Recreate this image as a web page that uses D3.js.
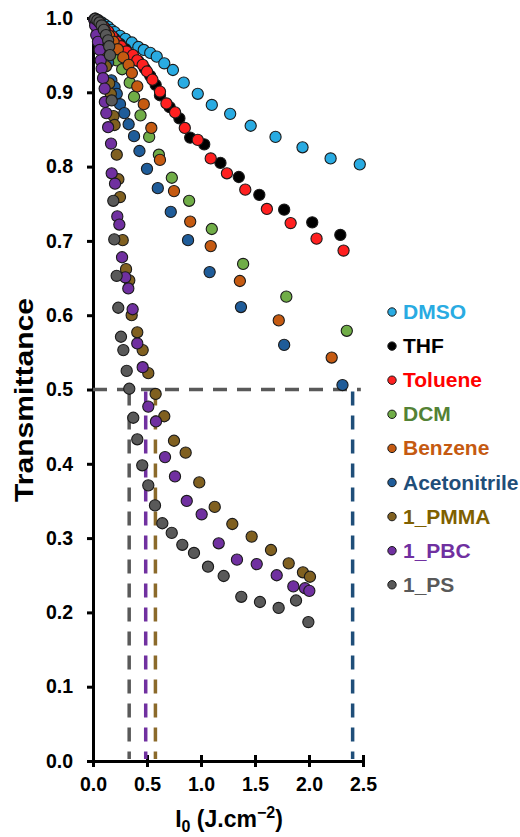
<!DOCTYPE html>
<html><head><meta charset="utf-8">
<script src="https://cdn.jsdelivr.net/npm/d3@7"></script>
<style>
html,body{margin:0;padding:0;background:#fff;}
text{font-family:"Liberation Sans",Arial,sans-serif;font-weight:bold;}
</style></head>
<body><svg id="c" width="520" height="837"></svg>
<script>
const seriesNames = ["DMSO","THF","Toluene","DCM","Benzene","Acetonitrile","1_PMMA","1_PBC","1_PS"];
const markerColors = ["#29ABE2","#000000","#FF2020","#70AD47","#C55A11","#1F5C99","#806020","#7030A0","#595959"];
const labelColors  = ["#29ABE2","#000000","#FF0000","#548235","#C55A11","#1F4E79","#7F6000","#7030A0","#595959"];

const DMSO = [[0.02,0.999],[0.05,0.997],[0.08,0.994],[0.11,0.991],[0.14,0.988],[0.17,0.984],[0.2,0.981],[0.25,0.976],[0.3,0.972],[0.36,0.967],[0.42,0.961],[0.47,0.957],[0.53,0.953],[0.59,0.948],[0.66,0.939],[0.74,0.930],[0.84,0.913],[0.97,0.898],[1.1,0.883],[1.27,0.871],[1.46,0.855],[1.69,0.840],[1.94,0.826],[2.2,0.811],[2.47,0.803]];
const THF = [[0.03,0.997],[0.07,0.992],[0.11,0.986],[0.15,0.979],[0.2,0.972],[0.25,0.965],[0.3,0.958],[0.36,0.950],[0.42,0.942],[0.48,0.932],[0.53,0.922],[0.58,0.910],[0.62,0.896],[0.71,0.880],[0.8,0.865],[0.9,0.839],[1.03,0.830],[1.18,0.805],[1.35,0.786],[1.54,0.762],[1.77,0.742],[2.03,0.725],[2.29,0.708]];
const Toluene = [[0.03,0.998],[0.06,0.994],[0.1,0.988],[0.14,0.982],[0.18,0.975],[0.22,0.968],[0.26,0.962],[0.31,0.955],[0.37,0.950],[0.41,0.943],[0.46,0.937],[0.5,0.928],[0.55,0.917],[0.62,0.901],[0.68,0.885],[0.76,0.873],[0.85,0.852],[0.97,0.836],[1.09,0.811],[1.24,0.791],[1.41,0.769],[1.61,0.743],[1.83,0.724],[2.07,0.703],[2.32,0.687]];
const DCM = [[0.03,0.996],[0.07,0.988],[0.11,0.978],[0.15,0.966],[0.19,0.953],[0.22,0.943],[0.27,0.931],[0.34,0.913],[0.38,0.894],[0.44,0.869],[0.52,0.840],[0.61,0.816],[0.73,0.785],[0.89,0.754],[1.1,0.716],[1.39,0.669],[1.79,0.625],[2.35,0.579]];
const Benzene = [[0.03,0.996],[0.07,0.99],[0.11,0.983],[0.15,0.976],[0.19,0.968],[0.23,0.958],[0.28,0.947],[0.33,0.937],[0.36,0.926],[0.41,0.908],[0.47,0.884],[0.54,0.852],[0.62,0.809],[0.75,0.767],[0.9,0.726],[1.09,0.693],[1.36,0.646],[1.72,0.593],[2.21,0.543]];
const Acetonitrile = [[0.02,0.995],[0.05,0.985],[0.08,0.972],[0.11,0.958],[0.14,0.94],[0.17,0.916],[0.2,0.907],[0.22,0.898],[0.25,0.884],[0.29,0.872],[0.33,0.857],[0.38,0.841],[0.43,0.821],[0.5,0.797],[0.6,0.771],[0.72,0.739],[0.88,0.701],[1.08,0.658],[1.37,0.611],[1.77,0.560],[2.31,0.506]];
const PMMA = [[0.02,0.995],[0.04,0.985],[0.07,0.97],[0.09,0.955],[0.12,0.935],[0.15,0.912],[0.165,0.898],[0.19,0.868],[0.2,0.856],[0.22,0.816],[0.235,0.783],[0.25,0.759],[0.275,0.701],[0.306,0.662],[0.336,0.647],[0.358,0.600],[0.41,0.577],[0.46,0.553],[0.512,0.522],[0.58,0.494],[0.66,0.464],[0.75,0.431],[0.858,0.415],[0.984,0.375],[1.127,0.342],[1.29,0.319],[1.469,0.302],[1.648,0.284],[1.812,0.266],[1.944,0.254],[2.009,0.248]];
const PBC = [[0.01,0.998],[0.02,0.99],[0.03,0.977],[0.046,0.968],[0.062,0.957],[0.071,0.943],[0.08,0.932],[0.093,0.919],[0.108,0.905],[0.11,0.887],[0.123,0.872],[0.14,0.853],[0.167,0.831],[0.173,0.791],[0.204,0.777],[0.225,0.733],[0.244,0.722],[0.269,0.678],[0.299,0.651],[0.327,0.636],[0.367,0.608],[0.41,0.562],[0.46,0.530],[0.512,0.477],[0.583,0.457],[0.667,0.409],[0.759,0.383],[0.868,0.350],[1.006,0.332],[1.164,0.293],[1.333,0.271],[1.516,0.265],[1.701,0.250],[1.855,0.235],[1.963,0.2325],[2.003,0.229]];
const PS = [[0.02,0.999],[0.04,0.997],[0.06,0.994],[0.08,0.99],[0.1,0.984],[0.12,0.977],[0.14,0.97],[0.15,0.962],[0.157,0.950],[0.173,0.889],[0.188,0.754],[0.197,0.702],[0.219,0.653],[0.234,0.610],[0.259,0.571],[0.281,0.553],[0.312,0.525],[0.336,0.501],[0.373,0.462],[0.41,0.433],[0.456,0.398],[0.512,0.371],[0.574,0.344],[0.642,0.320],[0.729,0.307],[0.827,0.291],[0.935,0.280],[1.065,0.2615],[1.21,0.249],[1.373,0.221],[1.546,0.214],[1.719,0.206],[1.88,0.216],[1.994,0.187]];
const seriesData = [DMSO,THF,Toluene,DCM,Benzene,Acetonitrile,PMMA,PBC,PS];

// threshold (T = 0.5) guide lines
const halfLevel = 0.5;
const halfLineEnd = 2.48;
const thresholdX = [0.335, 0.488, 0.578, 2.404];
const thresholdColors = ["#595959","#7030A0","#8B6A2A","#1F4E79"];

const xTicks = [0,0.5,1,1.5,2,2.5];
const yTicks = [0,0.1,0.2,0.3,0.4,0.5,0.6,0.7,0.8,0.9,1.0];

const svg = d3.select("#c");
const x = d3.scaleLinear().domain([0,2.5]).range([93,363]);
const y = d3.scaleLinear().domain([0,1]).range([761,18]);

// axes
const fmt = d3.format(".1f");
const gy = svg.append("g").attr("transform",`translate(${x(0)},0)`)
  .call(d3.axisLeft(y).tickValues(yTicks).tickFormat(fmt).tickSize(6).tickSizeOuter(0).tickPadding(14));
const gx = svg.append("g").attr("transform",`translate(0,${y(0)})`)
  .call(d3.axisBottom(x).tickValues(xTicks).tickFormat(fmt).tickSize(6).tickSizeOuter(0).tickPadding(10));
[gx,gy].forEach(g=>{
  g.select(".domain").attr("stroke","#000").attr("stroke-width",3);
  g.selectAll(".tick line").attr("stroke","#000").attr("stroke-width",3);
  g.selectAll(".tick text").attr("fill","#000").style("font-size","19.5px").style("font-family","'Liberation Sans',Arial,sans-serif").style("font-weight","bold");
});
gx.selectAll(".tick line").attr("y1",-6).attr("y2",6);

// dashed guide lines
svg.append("line").attr("x1",x(0)).attr("x2",x(halfLineEnd)).attr("y1",y(halfLevel)).attr("y2",y(halfLevel))
  .attr("stroke","#595959").attr("stroke-width",3.5).attr("stroke-dasharray","14,10");
thresholdX.forEach((v,i)=>{
  svg.append("line").attr("x1",x(v)).attr("x2",x(v)).attr("y1",y(halfLevel)+2).attr("y2",y(0)-2)
    .attr("stroke",thresholdColors[i]).attr("stroke-width",3.5).attr("stroke-dasharray","14,10");
});

// points
seriesData.forEach((data,i)=>{
  svg.append("g").selectAll("circle").data(data).join("circle")
    .attr("cx",d=>x(d[0])).attr("cy",d=>y(d[1])).attr("r",5.6)
    .attr("fill",markerColors[i]).attr("stroke","#1a1a1a").attr("stroke-width",1.1);
});

// legend
const legY0 = 312, legStep = 34.1;
seriesNames.forEach((n,i)=>{
  const yy = legY0 + i*legStep;
  svg.append("circle").attr("cx",392).attr("cy",yy).attr("r",4.2)
    .attr("fill",markerColors[i]).attr("stroke","#1a1a1a").attr("stroke-width",1);
  svg.append("text").attr("x",403).attr("y",yy+7).attr("fill",labelColors[i])
    .style("font-size","21px").text(n);
});

// axis titles
svg.append("text").attr("transform",`translate(33,400) rotate(-90)`).attr("text-anchor","middle")
  .attr("textLength",204).attr("lengthAdjust","spacingAndGlyphs")
  .style("font-size","25px").attr("fill","#000").text("Transmittance");
const xt = svg.append("text").attr("x",229).attr("y",827).attr("text-anchor","middle").attr("fill","#000").style("font-size","23px");
xt.append("tspan").text("I");
xt.append("tspan").attr("dy",5).style("font-size","16px").text("0");
xt.append("tspan").attr("dy",-5).text(" (J.cm");
xt.append("tspan").attr("dy",-9).style("font-size","16px").text("\u22122");
xt.append("tspan").attr("dy",9).text(")");
</script></body></html>
